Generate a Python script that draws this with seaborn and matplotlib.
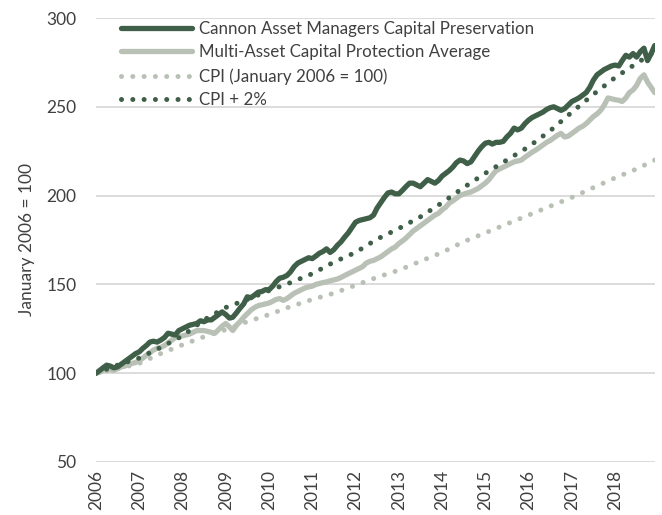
import numpy as np
import pandas as pd
import seaborn as sns
import matplotlib
matplotlib.use("Agg")
import matplotlib.pyplot as plt
import matplotlib.dates as mdates

# monthly index values, Jan 2006 .. Dec 2018
cannon = [
    100, 101.5, 103, 104.5, 104, 103, 103.5, 105, 106.5, 108, 109.5, 111,
    112, 114, 115.5, 117.5, 118, 117.5, 118.6, 120, 122.5, 122, 121.5, 124,
    125, 126, 127, 127.5, 128, 129.5, 129, 130, 130, 131.5, 133, 134.5,
    133, 131, 131.5, 134, 136.6, 139, 143, 142.5, 144, 145.6, 146, 147,
    147, 149, 151.5, 153.5, 154, 155, 157, 160, 162, 163, 164, 165,
    164.5, 166, 167.5, 168.5, 170, 168, 169.5, 172, 174, 176.6, 179, 182,
    185, 186, 186.5, 187, 187.5, 189, 193, 196, 199, 201.5, 202, 201,
    201, 203, 205, 207, 207, 206, 205, 207, 209, 208, 207, 208.5,
    211, 212.6, 214, 216, 218.5, 220, 219.5, 218, 219, 222, 225, 227.5,
    229.5, 230, 229, 230, 230, 230.5, 233, 235, 238, 237, 238, 240.5,
    242.5, 244, 245, 246, 247, 248.5, 249.5, 250, 249, 248, 249, 251,
    253, 254, 255, 256.5, 258, 261, 265, 268, 269.5, 271, 272, 273,
    273.5, 273, 276, 279, 278, 280, 278, 281, 283, 276, 280, 284.5,
]
multi_asset = [
    100, 100.5, 101.5, 102.5, 102, 101.5, 102.5, 103.5, 104, 105, 105.5, 106,
    107, 108.5, 110, 111.5, 113, 114, 114.5, 115.5, 117, 118.5, 120, 120.5,
    121, 121.5, 122, 123, 124, 124, 124, 123.5, 123, 122.5, 124.5, 126.5,
    128, 126, 124, 127, 129, 131.5, 133.5, 135.5, 137, 138, 138.5, 139,
    139.5, 140.5, 141.5, 142, 141, 142, 143.5, 145, 146, 147, 148, 148.6,
    149, 150, 150.5, 151, 151.4, 152, 152.5, 153, 153.9, 155, 156, 157,
    158, 159, 160, 162, 163, 163.5, 164.5, 165.5, 167, 168.5, 170, 171,
    173, 174.5, 176, 178, 180, 181.5, 183, 184.4, 186, 187.5, 189, 190,
    192, 193.5, 195.7, 197, 198.5, 200, 200.8, 201.5, 202, 203, 204, 205.5,
    207, 209, 211.5, 214, 215, 216, 217, 218, 219, 219.5, 220, 221.6,
    223, 224.5, 225.6, 227, 228.5, 230, 231, 232.5, 234, 235, 233, 233.5,
    235, 236.5, 238, 239, 240.5, 242.5, 244.5, 246, 248, 251, 255, 254.5,
    254, 253.7, 253, 255, 258, 259.5, 262, 266, 268, 264, 261, 258,
]

# half-yearly CPI readings, Jan 2006 .. Dec 2018
cpi = [100, 102.5, 105.5, 111, 116, 120.5, 124.5, 129, 133, 137.5, 141.5, 145,
       149.5, 154, 158, 163, 168, 174, 179, 184, 189, 194, 199, 204.5, 210,
       215, 220]
cpi_plus2 = [100, 104.5, 108.5, 114.5, 121, 130, 137, 141.5, 146.5, 151, 156,
             162.5, 168, 175.5, 181.5, 188, 196, 204.5, 212.6, 220, 227.5,
             236.5, 247, 257, 266.5, 274.5, 281]

labels = ["Cannon Asset Managers Capital Preservation",
          "Multi-Asset Capital Protection Average",
          "CPI (January 2006 = 100)",
          "CPI + 2%"]

dark = "#3f5f48"
light = "#b9c1b6"

months = pd.date_range("2006-01-01", periods=len(cannon), freq="MS")
half_years = list(pd.date_range("2006-01-01", "2018-07-01", freq="6MS")) + [months[-1]]

sns.set_style("white")
plt.rcParams["font.family"] = ["Lato", "DejaVu Sans"]

fig = plt.figure(figsize=(6.62, 5.15), dpi=100)
ax = fig.add_axes([0.145, 0.103, 0.844, 0.862])

dots = (0, (0.01, 2.25))
sns.lineplot(x=months, y=cannon, ax=ax, color=dark, lw=3.8, label=labels[0],
             zorder=5, solid_capstyle="round")
sns.lineplot(x=months, y=multi_asset, ax=ax, color=light, lw=3.8, label=labels[1],
             zorder=2, solid_capstyle="round")
sns.lineplot(x=half_years, y=cpi, ax=ax, color=light, lw=3.6, ls=dots,
             dash_capstyle="round", label=labels[2], zorder=3)
sns.lineplot(x=half_years, y=cpi_plus2, ax=ax, color=dark, lw=3.6, ls=dots,
             dash_capstyle="round", label=labels[3], zorder=4)

ax.set_ylim(50, 300)
ax.set_yticks([50, 100, 150, 200, 250, 300])
ax.set_xlim(months[0], months[-1])
ax.xaxis.set_major_locator(mdates.YearLocator())
ax.xaxis.set_major_formatter(mdates.DateFormatter("%Y"))
plt.setp(ax.get_xticklabels(), rotation=90)
ax.tick_params(axis="both", labelsize=12.5, colors="#404040", length=0)
ax.tick_params(axis="y", pad=14)
ax.tick_params(axis="x", pad=6)
ax.grid(axis="y", color="#d9d9d9", lw=1.3)
ax.grid(axis="x", visible=False)
for s in ax.spines.values():
    s.set_visible(False)
ax.set_ylabel("January 2006 = 100", fontsize=12.5, color="#404040", labelpad=8)

leg = ax.legend(loc="upper left", frameon=False, fontsize=12.2, handlelength=4.2,
                handletextpad=0.4, labelspacing=0.45, borderaxespad=0.1,
                bbox_to_anchor=(0.03, 1.013))
for t in leg.get_texts():
    t.set_color("#404040")

fig.savefig("out.png", dpi=100)
